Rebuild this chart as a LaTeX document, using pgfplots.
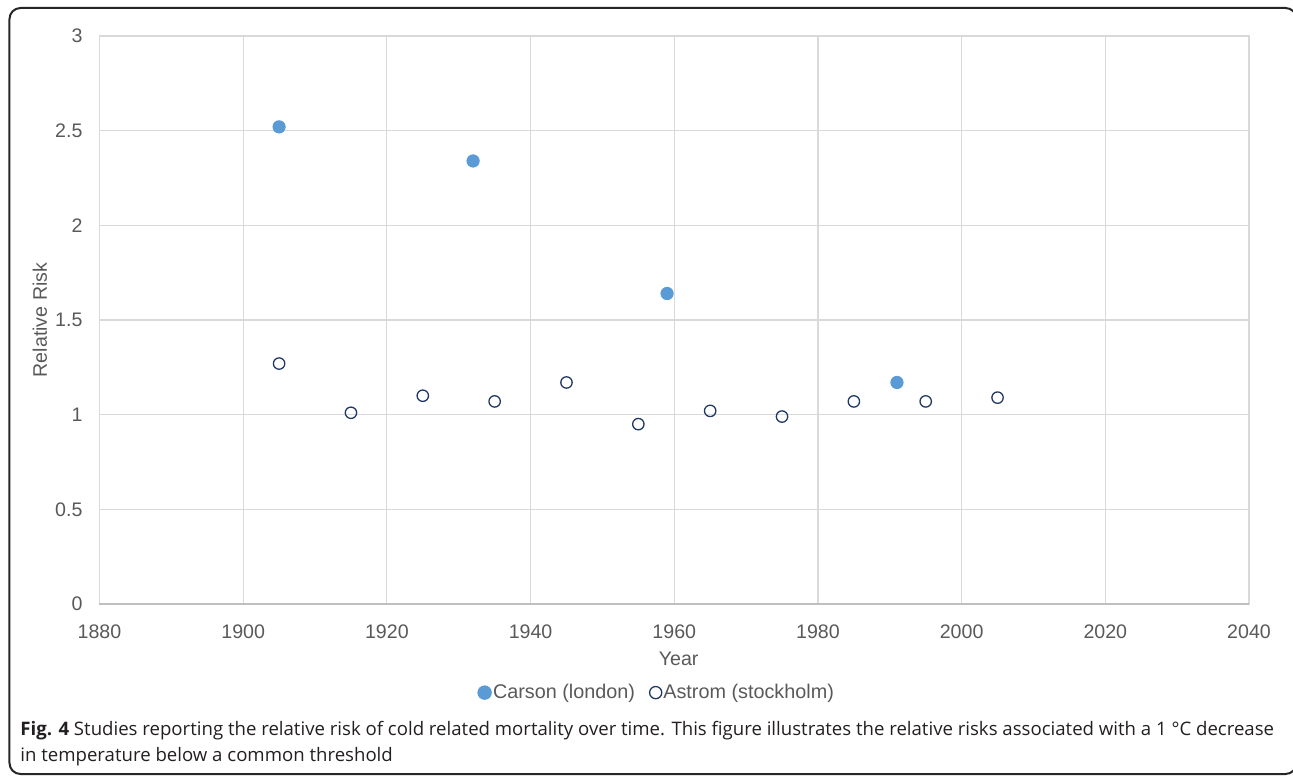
\documentclass[border=0pt]{standalone}
\usepackage{fontspec}
\setmainfont{Liberation Sans}
\newfontfamily\capfont{Open Sans}
\usepackage{pgfplots}
\pgfplotsset{compat=1.18}
\definecolor{carson}{HTML}{5B9BD5}
\definecolor{astrom}{HTML}{203864}
\definecolor{gridc}{HTML}{D9D9D9}
\definecolor{axc}{HTML}{BFBFBF}
\definecolor{txt}{HTML}{595959}
\definecolor{captxt}{HTML}{231F20}
\pgfplotsset{
  legcarson/.style={legend image code/.code={\draw[#1] plot[only marks, mark size=3.4pt] coordinates {(3.4pt,0pt)};}},
  legastrom/.style={legend image code/.code={\draw[#1] plot[only marks, mark size=3.05pt] coordinates {(3.1pt,0pt)};}},
}
\begin{document}
\begin{tikzpicture}
\useasboundingbox (-49.75pt,-86pt) rectangle (596.75pt,302pt);
\draw[line width=1pt, color=black!85, rounded corners=5.5pt] (-45pt,298pt) rectangle (598.5pt,-85pt);
\begin{axis}[
  at={(0pt,0pt)}, anchor=south west,
  scale only axis, width=574.75pt, height=284pt,
  xmin=1880, xmax=2040, ymin=0, ymax=3,
  xtick={1880,1900,1920,1940,1960,1980,2000,2020,2040},
  ytick={0,0.5,1,1.5,2,2.5,3},
  yticklabels={0,0.5,1,1.5,2,2.5,3},
  grid=major, major grid style={gridc, line width=0.6pt},
  axis line style={gridc, line width=0.6pt},
  major tick length=0pt,
  tick label style={font=\fontsize{9.8}{11}\selectfont, text=txt},
  yticklabel style={xshift=-5pt},
  xticklabel style={yshift=-7pt},
  /pgf/number format/.cd, set thousands separator={}, assume math mode=true, /pgfplots/.cd,
  xlabel={Year}, ylabel={Relative Risk},
  label style={font=\fontsize{9.8}{11}\selectfont, text=txt},
  xlabel style={at={(axis description cs:0.5038,-0.0957)}, anchor=center},
  ylabel style={at={(axis description cs:-0.0518,0.5)}, anchor=center},
  legend style={at={(axis description cs:0.4847,-0.156)}, anchor=center, draw=none, fill=none,
    legend columns=2, font=\fontsize{9.9}{11}\selectfont, text=txt,
    /tikz/every even column/.append style={column sep=6.5pt},
    nodes={inner sep=0.8pt}},
  after end axis/.code={\draw[axc, line width=0.7pt] (rel axis cs:0,0) -- (rel axis cs:1,0);},
  clip=false,
]
\addplot[only marks, mark=*, mark size=3.1pt, mark options={fill=carson, draw=carson}, legcarson]
  coordinates {(1905,2.52) (1932,2.34) (1959,1.64) (1991,1.17)};
\addlegendentry{Carson (london)}
\addplot[only marks, mark=o, mark size=2.85pt, mark options={draw=astrom, fill=white, line width=0.65pt}, legastrom]
  coordinates {(1905,1.27) (1915,1.01) (1925,1.10) (1935,1.07) (1945,1.17) (1955,0.95)
    (1965,1.02) (1975,0.99) (1985,1.07) (1995,1.07) (2005,1.09)};
\addlegendentry{Astrom (stockholm)}
\end{axis}
\node[anchor=base west, inner sep=0pt, align=left, text=captxt,
  font=\capfont\fontsize{9.3}{13}\selectfont] at (-39.75pt,-78.85pt)
  {{\bfseries Fig. 4} Studies reporting the relative risk of cold related mortality over time. This figure illustrates the relative risks associated with a 1~°C decrease\\in temperature below a common threshold};
\end{tikzpicture}
\end{document}
